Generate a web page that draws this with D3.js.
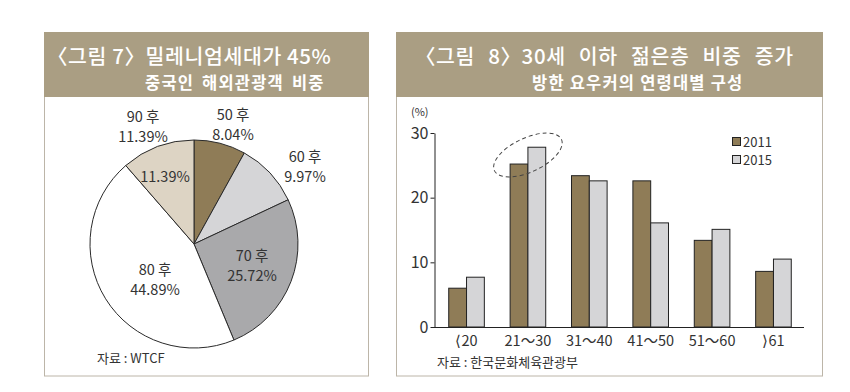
<!DOCTYPE html>
<html>
<head>
<meta charset="utf-8">
<script src="https://cdn.jsdelivr.net/npm/d3@7"></script>
<style>
  body { margin: 0; background: #fff; }
  svg { display: block; font-family: "Noto Sans CJK KR", "Noto Sans", sans-serif; }
</style>
</head>
<body>
<div id="chart"></div>
<script>
// pie data (그림 7)
var pieLabels = ["50 후", "60 후", "70 후", "80 후", "90 후"];
var pieValues = [8.04, 9.97, 25.72, 44.89, 11.39];
var pieColors = ["#8f7c57", "#d5d5d7", "#a9a9ab", "#ffffff", "#ddd4c4"];

// bar data (그림 8)
var ageGroups = ["⟨20", "21～30", "31～40", "41～50", "51～60", "⟩61"];
var years = ["2011", "2015"];
var values2011 = [6.0, 25.2, 23.4, 22.6, 13.4, 8.6];
var values2015 = [7.7, 27.8, 22.6, 16.1, 15.1, 10.5];
var yTicks = [0, 10, 20, 30];

var width = 850, height = 392;
var headerColor = "#aa9e83", borderColor = "#bcb5a8", textColor = "#333";

var svg = d3.select("#chart").append("svg")
    .attr("width", width)
    .attr("height", height);

// ---------- panel frames + headers
function panel(x0, x1, title, sub, titleX, subX, titleWs, subWs) {
    svg.append("rect")
        .attr("x", x0 + 0.5).attr("y", 90)
        .attr("width", x1 - x0).attr("height", 376 - 90)
        .attr("fill", "none").attr("stroke", borderColor).attr("stroke-width", 1);
    svg.append("rect")
        .attr("x", x0).attr("y", 32)
        .attr("width", x1 - x0 + 1).attr("height", 65)
        .attr("fill", headerColor);
    svg.append("text")
        .attr("x", titleX).attr("y", 64)
        .attr("fill", "#fff").attr("font-size", 20.5).attr("font-weight", 500)
        .attr("letter-spacing", 0.6).attr("word-spacing", titleWs)
        .text(title);
    svg.append("text")
        .attr("x", subX).attr("y", 89)
        .attr("fill", "#fff").attr("font-size", 16.5).attr("font-weight", 700)
        .attr("letter-spacing", 1.2).attr("word-spacing", subWs)
        .text(sub);
}
panel(44, 368, "〈그림 7〉밀레니엄세대가 45%", "중국인 해외관광객 비중", 47, 145, 0, 3);
panel(396, 822, "〈그림 8〉30세 이하 젊은층 비중 증가", "방한 요우커의 연령대별 구성", 415, 532, 8, 0);

// ---------- pie
var cx = 194, cy = 244, r = 104;
var pie = d3.pie().sort(null).value(function (d) { return d; });
var arc = d3.arc().innerRadius(0).outerRadius(r);
var pg = svg.append("g").attr("transform", "translate(" + cx + "," + cy + ")");
pg.selectAll("path")
    .data(pie(pieValues))
    .join("path")
    .attr("d", arc)
    .attr("fill", function (d, i) { return pieColors[i]; })
    .attr("stroke", "#2a2a2a")
    .attr("stroke-width", 1);

// label spots (centre of name line), relative to the pie centre
var labelPos = [[39, -129], [111, -87], [58, 12], [-39, 26], [-51, -127]];
var fmt = d3.format(".2f");
labelPos.forEach(function (p, i) {
    var t = pg.append("text")
        .attr("text-anchor", "middle")
        .attr("fill", textColor)
        .attr("font-size", 14.5);
    t.append("tspan").attr("x", p[0]).attr("y", p[1] + 5).text(pieLabels[i]);
    t.append("tspan").attr("x", p[0]).attr("dy", 20).text(fmt(pieValues[i]) + "%");
});
// value repeated inside the 90 후 slice
pg.append("text")
    .attr("x", -29).attr("y", -62)
    .attr("text-anchor", "middle")
    .attr("fill", textColor).attr("font-size", 14.5)
    .text(fmt(pieValues[4]) + "%");

svg.append("text")
    .attr("x", 97).attr("y", 363)
    .attr("fill", textColor).attr("font-size", 13)
    .text("자료 : WTCF");

// ---------- bars
var x0 = d3.scaleBand().domain(ageGroups).range([434, 806])
    .paddingInner(0.42).paddingOuter(0.24);
var x1 = d3.scaleBand().domain(years).range([0, x0.bandwidth()]);
var y = d3.scaleLinear().domain([0, 30]).range([327, 133]);
var barColors = { "2011": "#8f7c57", "2015": "#d5d5d7" };

var rows = ageGroups.map(function (g, i) {
    return { group: g, vals: [{ year: "2011", v: values2011[i] }, { year: "2015", v: values2015[i] }] };
});

var groups = svg.selectAll("g.grp")
    .data(rows)
    .join("g").attr("class", "grp")
    .attr("transform", function (d) { return "translate(" + x0(d.group) + ",0)"; });
groups.selectAll("rect")
    .data(function (d) { return d.vals; })
    .join("rect")
    .attr("x", function (d) { return x1(d.year); })
    .attr("y", function (d) { return y(d.v); })
    .attr("width", x1.bandwidth())
    .attr("height", function (d) { return y(0) - y(d.v); })
    .attr("fill", function (d) { return barColors[d.year]; })
    .attr("stroke", "#222").attr("stroke-width", 1);

// y axis
var yAxis = svg.append("g")
    .attr("transform", "translate(434.5,0)")
    .call(d3.axisLeft(y).tickValues(yTicks).tickSize(4).tickSizeOuter(0).tickPadding(2));
yAxis.select(".domain").attr("stroke", "#222");
yAxis.selectAll(".tick line").attr("stroke", "#222");
yAxis.selectAll(".tick text")
    .attr("fill", textColor).attr("font-size", 16)
    .attr("font-family", "'Noto Sans CJK KR', sans-serif");

// x axis baseline + labels
var xAxis = svg.append("g")
    .attr("transform", "translate(0,327.5)")
    .call(d3.axisBottom(x0).tickSize(0).tickPadding(8).tickSizeOuter(0));
xAxis.select(".domain").attr("stroke", "#222").attr("d", "M434,0H804");
xAxis.selectAll(".tick text")
    .attr("fill", textColor).attr("font-size", 14.5)
    .attr("font-family", "'Noto Sans CJK KR', sans-serif")
    .each(function (d) {
        // narrow angle brackets come from DejaVu
        var first = d.charAt(0);
        if (first !== "⟨" && first !== "⟩") return;
        var t = d3.select(this).text(null);
        t.append("tspan").attr("font-family", "'DejaVu Sans'").attr("font-weight", 200).text(first);
        t.append("tspan").text(d.slice(1));
    });

svg.append("text")
    .attr("x", 411).attr("y", 116)
    .attr("fill", textColor).attr("font-size", 11)
    .text("(%)");

// legend
years.forEach(function (yr, i) {
    svg.append("rect")
        .attr("x", 732.5).attr("y", 137.5 + i * 18)
        .attr("width", 8).attr("height", 8)
        .attr("fill", barColors[yr]).attr("stroke", "#222").attr("stroke-width", 1);
    svg.append("text")
        .attr("x", 743).attr("y", 147 + i * 18)
        .attr("fill", textColor).attr("font-size", 13)
        .text(yr);
});

// dashed ellipse round the 21~30 group
var ex = x0(ageGroups[1]) + x0.bandwidth() / 2;
svg.append("ellipse")
    .attr("cx", ex)
    .attr("cy", 155)
    .attr("rx", 37).attr("ry", 17)
    .attr("transform", "rotate(-25," + ex + ",155)")
    .attr("fill", "none").attr("stroke", "#444")
    .attr("stroke-width", 1).attr("stroke-dasharray", "4,3");

svg.append("text")
    .attr("x", 437).attr("y", 367)
    .attr("fill", textColor).attr("font-size", 13)
    .text("자료 : 한국문화체육관광부");
</script>
</body>
</html>
